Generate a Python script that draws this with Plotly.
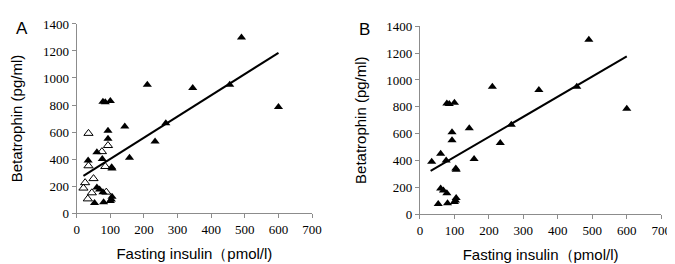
import plotly.graph_objects as go

# Filled triangles (shown in both panels)
filled_x = [34, 60, 76, 60, 68, 78, 53, 80, 100, 105, 103, 104, 105, 93, 93, 78, 85, 100, 143, 157, 210, 233, 265, 345, 455, 490, 600]
filled_y = [390, 450, 400, 190, 175, 155, 75, 80, 90, 120, 100, 340, 330, 550, 610, 825, 820, 830, 640, 410, 950, 530, 665, 925, 950, 1300, 785]

# Open triangles (panel A only)
open_x = [35, 35, 75, 93, 85, 50, 25, 20, 45, 33, 88]
open_y = [590, 350, 455, 500, 345, 255, 225, 185, 150, 105, 155]

# Trend lines: (slope, intercept, x_start, x_end)
fit_a = (1.57, 244, 20, 600)
fit_b = (1.50, 275, 31, 600)

x_ticks = [0, 100, 200, 300, 400, 500, 600, 700]
y_ticks = [0, 200, 400, 600, 800, 1000, 1200, 1400]
x_title = "Fasting insulin（pmol/l)"
y_title = "Betatrophin (pg/ml)"

W, H = 675, 264

def fit_line(fit):
    s, b, x0, x1 = fit
    return [x0, x1], [b + s * x0, b + s * x1]

fig = go.Figure()

mk_filled = dict(symbol="triangle-up", size=8, color="black")
mk_open = dict(symbol="triangle-up-open", size=8, color="black", line=dict(width=1, color="black"))

# Panel A
fig.add_trace(go.Scatter(x=open_x, y=open_y, mode="markers", marker=mk_open, xaxis="x", yaxis="y"))
fig.add_trace(go.Scatter(x=filled_x, y=filled_y, mode="markers", marker=mk_filled, xaxis="x", yaxis="y"))
lx, ly = fit_line(fit_a)
fig.add_trace(go.Scatter(x=lx, y=ly, mode="lines", line=dict(color="black", width=2), xaxis="x", yaxis="y"))

# Panel B
fig.add_trace(go.Scatter(x=filled_x, y=filled_y, mode="markers", marker=mk_filled, xaxis="x2", yaxis="y2"))
lx, ly = fit_line(fit_b)
fig.add_trace(go.Scatter(x=lx, y=ly, mode="lines", line=dict(color="black", width=2), xaxis="x2", yaxis="y2"))

tick_font = dict(family="Times New Roman", size=13, color="black")
title_font = dict(family="Arial", size=15, color="black")

def xaxis(domain, anchor):
    return dict(domain=domain, anchor=anchor, range=[0, 700], tickvals=x_ticks, ticktext=[str(v) for v in x_ticks],
                showline=True, linecolor="#8c8c8c", linewidth=1, ticks="outside", ticklen=4, tickcolor="#8c8c8c",
                showgrid=False, zeroline=False, tickfont=tick_font,
                title=dict(text=x_title, font=title_font, standoff=12))

def yaxis(domain, anchor):
    return dict(domain=domain, anchor=anchor, range=[0, 1400], tickvals=y_ticks, ticktext=[str(v) for v in y_ticks],
                showline=True, linecolor="#8c8c8c", linewidth=1, ticks="outside", ticklen=4, tickcolor="#8c8c8c",
                showgrid=False, zeroline=False, tickfont=tick_font,
                title=dict(text=y_title, font=title_font, standoff=16))

fig.update_layout(
    width=W, height=H, margin=dict(l=0, r=0, t=0, b=0),
    paper_bgcolor="white", plot_bgcolor="white", showlegend=False,
    xaxis=xaxis([67 / W, 307 / W], "y"),
    yaxis=yaxis([54 / H, 254.5 / H], "x"),
    xaxis2=xaxis([417 / W, 663 / W], "y2"),
    yaxis2=yaxis([53 / H, 252 / H], "x2"),
    annotations=[
        dict(text="A", x=3 / W, y=1 - 14 / H, xref="paper", yref="paper", xanchor="left", yanchor="middle",
             showarrow=False, font=dict(family="Arial", size=17, color="black")),
        dict(text="B", x=353 / W, y=1 - 15 / H, xref="paper", yref="paper", xanchor="left", yanchor="middle",
             showarrow=False, font=dict(family="Arial", size=17, color="black")),
    ],
)

fig.write_html("out.html")
